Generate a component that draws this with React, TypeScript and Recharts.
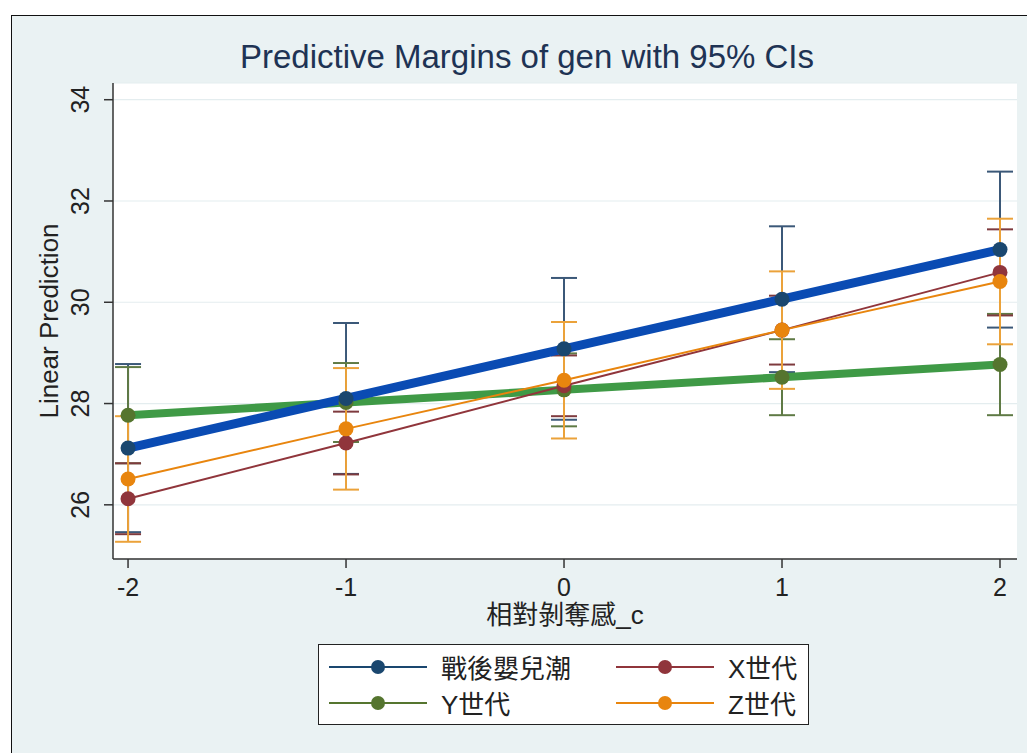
import { ComposedChart, Line, XAxis, YAxis, CartesianGrid, ErrorBar } from 'recharts'

const xValues = [-2, -1, 0, 1, 2]
const boomer = [27.12, 28.1, 29.08, 30.06, 31.04]
const genX = [26.12, 27.22, 28.35, 29.45, 30.59]
const genY = [27.77, 28.02, 28.27, 28.52, 28.77]
const genZ = [26.51, 27.5, 28.46, 29.45, 30.41]

// 95% CI half widths
const boomerCi = [1.66, 1.49, 1.4, 1.44, 1.54]
const genXCi = [0.7, 0.62, 0.6, 0.68, 0.85]
const genYCi = [0.95, 0.78, 0.72, 0.75, 1.0]
const genZCi = [1.24, 1.2, 1.15, 1.16, 1.24]

const xTicks = [-2, -1, 0, 1, 2]
const yTicks = [26, 28, 30, 32, 34]

const seriesNames = ['戰後嬰兒潮', 'X世代', 'Y世代', 'Z世代']

const FONT = '"Liberation Sans", Arial, "Noto Sans CJK TC", sans-serif'
const NAVY = '#1a476f'
const MAROON = '#90353b'
const FOREST = '#55752f'
const ORANGE = '#e8850e'

const data = xValues.map((x, i) => ({
  x,
  boomer: boomer[i],
  genX: genX[i],
  genY: genY[i],
  genZ: genZ[i],
  boomerCi: boomerCi[i],
  genXCi: genXCi[i],
  genYCi: genYCi[i],
  genZCi: genZCi[i],
}))

function XTick(props: any) {
  const { x, y, payload } = props
  return (
    <text x={x} y={y + 26} textAnchor="middle" fontSize={25} fill="#222" fontFamily={FONT}>
      {payload.value}
    </text>
  )
}

function YTick(props: any) {
  const { x, y, payload } = props
  const bx = x - 13
  return (
    <text
      x={bx}
      y={y}
      transform={`rotate(-90, ${bx}, ${y})`}
      textAnchor="middle"
      fontSize={25}
      fill="#222"
      fontFamily={FONT}
    >
      {payload.value}
    </text>
  )
}

function LegendItem({ color, label }: { color: string; label: string }) {
  return (
    <div style={{ display: 'flex', alignItems: 'center', height: 36 }}>
      <svg width={98} height={20} style={{ marginRight: 14 }}>
        <line x1={0} y1={10} x2={98} y2={10} stroke={color} strokeWidth={2} />
        <circle cx={49} cy={10} r={7} fill={color} />
      </svg>
      <span style={{ fontSize: 26, color: '#222', fontFamily: FONT, whiteSpace: 'nowrap' }}>{label}</span>
    </div>
  )
}

export default function App() {
  return (
    <div style={{ position: 'fixed', left: 0, top: 0, width: 1027, height: 753, background: '#fff', overflow: 'hidden' }}>
      <div
        style={{
          position: 'absolute',
          left: 11,
          top: 15,
          width: 1040,
          height: 760,
          background: '#eaf2f3',
          borderLeft: '1.5px solid #111',
          borderTop: '1.5px solid #111',
        }}
      />
      <div
        style={{
          position: 'absolute',
          left: 527,
          top: 57,
          transform: 'translate(-50%, -50%)',
          fontSize: 33,
          color: '#1e3354',
          fontFamily: FONT,
          whiteSpace: 'nowrap',
        }}
      >
        Predictive Margins of gen with 95% CIs
      </div>
      <div
        style={{
          position: 'absolute',
          left: 49,
          top: 321,
          transform: 'translate(-50%, -50%) rotate(-90deg)',
          fontSize: 26,
          color: '#222',
          fontFamily: FONT,
          whiteSpace: 'nowrap',
        }}
      >
        Linear Prediction
      </div>
      <div
        style={{
          position: 'absolute',
          left: 565,
          top: 612,
          transform: 'translate(-50%, -50%)',
          fontSize: 26,
          color: '#222',
          fontFamily: FONT,
          whiteSpace: 'nowrap',
        }}
      >
        相對剝奪感_c
      </div>
      <div style={{ position: 'absolute', left: 0, top: 0 }}>
        <ComposedChart
          width={1027}
          height={753}
          data={data}
          margin={{ top: 83, right: 10, bottom: 134, left: 43 }}
        >
          <CartesianGrid vertical={false} stroke="#e4edef" strokeWidth={1.2} fill="#ffffff" fillOpacity={1} />
          <XAxis
            dataKey="x"
            type="number"
            domain={[-2.069, 2.078]}
            ticks={xTicks}
            allowDataOverflow
            height={60}
            axisLine={{ stroke: '#333', strokeWidth: 1.5 }}
            tickLine={{ stroke: '#333', strokeWidth: 1.5 }}
            tickSize={9}
            tick={<XTick />}
            interval={0}
          />
          <YAxis
            type="number"
            domain={[24.93, 34.33]}
            ticks={yTicks}
            allowDataOverflow
            width={70}
            axisLine={{ stroke: '#333', strokeWidth: 1.5 }}
            tickLine={{ stroke: '#333', strokeWidth: 1.5 }}
            tickSize={9}
            tick={<YTick />}
            interval={0}
          />
          <Line dataKey="boomer" stroke="none" dot={false} activeDot={false} isAnimationActive={false}>
            <ErrorBar dataKey="boomerCi" direction="y" width={13} strokeWidth={2} stroke="#3b5878" isAnimationActive={false} />
          </Line>
          <Line dataKey="genY" stroke="none" dot={false} activeDot={false} isAnimationActive={false}>
            <ErrorBar dataKey="genYCi" direction="y" width={13} strokeWidth={2} stroke="#5f7a45" isAnimationActive={false} />
          </Line>
          <Line dataKey="genX" stroke="none" dot={false} activeDot={false} isAnimationActive={false}>
            <ErrorBar dataKey="genXCi" direction="y" width={13} strokeWidth={2} stroke="#7e3a3e" isAnimationActive={false} />
          </Line>
          <Line dataKey="genZ" stroke="none" dot={false} activeDot={false} isAnimationActive={false}>
            <ErrorBar dataKey="genZCi" direction="y" width={13} strokeWidth={2} stroke="#eba23a" isAnimationActive={false} />
          </Line>
          <Line
            dataKey="genY"
            name={seriesNames[2]}
            stroke="#3f9a46"
            strokeWidth={8}
            dot={{ r: 7.5, fill: FOREST, stroke: FOREST, strokeWidth: 0 }}
            activeDot={false}
            isAnimationActive={false}
          />
          <Line
            dataKey="genX"
            name={seriesNames[1]}
            stroke={MAROON}
            strokeWidth={2}
            dot={{ r: 7.5, fill: MAROON, stroke: MAROON, strokeWidth: 0 }}
            activeDot={false}
            isAnimationActive={false}
          />
          <Line
            dataKey="genZ"
            name={seriesNames[3]}
            stroke={ORANGE}
            strokeWidth={2}
            dot={{ r: 7.5, fill: ORANGE, stroke: ORANGE, strokeWidth: 0 }}
            activeDot={false}
            isAnimationActive={false}
          />
          <Line
            dataKey="boomer"
            name={seriesNames[0]}
            stroke="#0a4bb3"
            strokeWidth={9}
            dot={{ r: 7.5, fill: NAVY, stroke: NAVY, strokeWidth: 0 }}
            activeDot={false}
            isAnimationActive={false}
          />
        </ComposedChart>
      </div>
      <div
        style={{
          position: 'absolute',
          left: 318,
          top: 644,
          width: 491,
          height: 81,
          background: '#fff',
          border: '1.5px solid #222',
          display: 'grid',
          gridTemplateColumns: '287px 200px',
          alignContent: 'center',
          paddingLeft: 10,
          boxSizing: 'border-box',
        }}
      >
        <LegendItem color={NAVY} label={seriesNames[0]} />
        <LegendItem color={MAROON} label={seriesNames[1]} />
        <LegendItem color={FOREST} label={seriesNames[2]} />
        <LegendItem color={ORANGE} label={seriesNames[3]} />
      </div>
    </div>
  )
}
